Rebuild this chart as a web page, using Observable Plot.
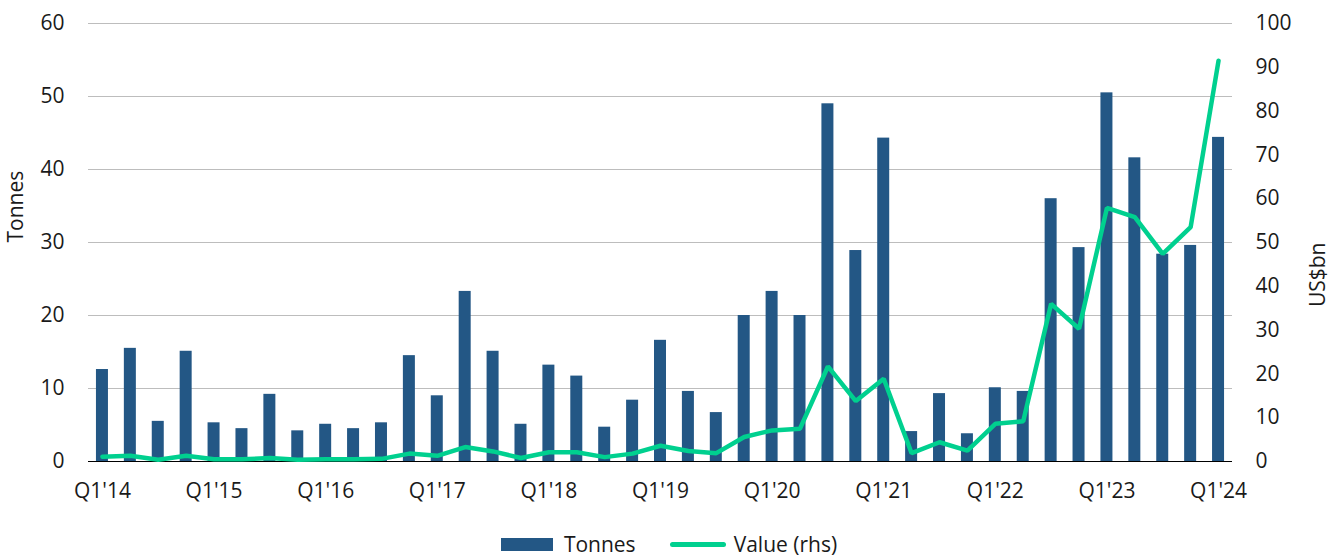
<!DOCTYPE html>
<html>
<head>
<meta charset="utf-8">
<script src="https://cdn.jsdelivr.net/npm/d3@7"></script>
<script src="https://cdn.jsdelivr.net/npm/@observablehq/plot@0.6"></script>
<style>
  html, body { margin: 0; background: #fff; font-family: "Open Sans", sans-serif; overflow: hidden; }
  #chart { position: relative; }
  #legend { position: absolute; left: 0; right: 0; top: 532px; height: 24px; display: flex; justify-content: center; align-items: center; font-size: 21px; line-height: 24px; color: #1a1a1a; }
  .sw-bar { width: 52px; height: 13px; background: #235785; margin-right: 11px; }
  .sw-line { width: 56px; height: 5px; border-radius: 3px; background: #00d08f; margin-left: 34px; margin-right: 8px; }
</style>
</head>
<body>
<div id="chart"></div>
<div id="legend"><span class="sw-bar"></span><span>Tonnes</span><span class="sw-line"></span><span>Value (rhs)</span></div>
<script>
const quarters = [
  "Q1'14","Q2'14","Q3'14","Q4'14","Q1'15","Q2'15","Q3'15","Q4'15",
  "Q1'16","Q2'16","Q3'16","Q4'16","Q1'17","Q2'17","Q3'17","Q4'17",
  "Q1'18","Q2'18","Q3'18","Q4'18","Q1'19","Q2'19","Q3'19","Q4'19",
  "Q1'20","Q2'20","Q3'20","Q4'20","Q1'21","Q2'21","Q3'21","Q4'21",
  "Q1'22","Q2'22","Q3'22","Q4'22","Q1'23","Q2'23","Q3'23","Q4'23","Q1'24"
];
const tonnes = [
  12.6,15.5,5.5,15.1,5.3,4.5,9.2,4.2,5.1,4.5,
  5.3,14.5,9.0,23.3,15.1,5.1,13.2,11.7,4.7,8.4,
  16.6,9.6,6.7,20.0,23.3,20.0,49.0,28.9,44.3,4.1,
  9.3,3.8,10.1,9.6,36.0,29.3,50.5,41.6,28.4,29.6,44.4
];
const valueUSbn = [
  1.1,1.3,0.4,1.3,0.5,0.5,0.8,0.4,0.5,0.5,
  0.6,1.8,1.3,3.3,2.3,0.8,2.1,2.1,1.0,1.8,
  3.6,2.4,1.9,5.6,7.1,7.5,21.7,13.8,18.9,1.9,
  4.4,2.5,8.6,9.2,36.0,30.3,57.9,55.8,47.4,53.5,91.5
];
const xTickLabels = ["Q1'14","Q1'15","Q1'16","Q1'17","Q1'18","Q1'19","Q1'20","Q1'21","Q1'22","Q1'23","Q1'24"];
const leftTicks = [0,10,20,30,40,50,60];
const rightTicks = [0,10,20,30,40,50,60,70,80,90,100];

const ratio = 60 / 100; // right axis max maps to left axis max
const data = quarters.map((q, i) => ({q, t: tonnes[i], v: valueUSbn[i] * ratio}));

const barColor = "#235785";
const lineColor = "#00d08f";

const chart = Plot.plot({
  width: 1338,
  height: 510,
  marginLeft: 88,
  marginRight: 106,
  marginTop: 23,
  marginBottom: 49,
  style: {fontFamily: "'Open Sans', sans-serif", fontSize: "21px", color: "#1a1a1a", background: "#fff"},
  x: {domain: quarters, type: "band", paddingInner: 0.57, paddingOuter: 0.285},
  y: {domain: [0, 60]},
  marks: [
    Plot.gridY(leftTicks, {stroke: "#bdbdbd", strokeOpacity: 1, strokeWidth: 1}),
    Plot.barY(data, {x: "q", y: "t", fill: barColor}),
    Plot.ruleY([0], {stroke: "#000", strokeWidth: 1}),
    Plot.line(data, {x: "q", y: "v", stroke: lineColor, strokeWidth: 4.5, strokeLinejoin: "miter", strokeLinecap: "round"}),
    Plot.axisX(xTickLabels, {tickSize: 0, tickPadding: 22, label: null, fontSize: 21}),
    Plot.axisY(leftTicks, {anchor: "left", tickSize: 0, tickPadding: 24, label: null, fontSize: 21}),
    Plot.axisY(rightTicks.map(d => d * ratio), {anchor: "right", tickSize: 0, tickPadding: 23, label: null, fontSize: 21, tickFormat: d => String(Math.round(d / ratio))}),
    Plot.text(["Tonnes"], {frameAnchor: "left", dx: -72, rotate: -90, fontSize: 21, fill: "#1a1a1a"}),
    Plot.text(["US$bn"], {frameAnchor: "right", dx: 86, rotate: -90, fontSize: 21, fill: "#1a1a1a"})
  ]
});
document.getElementById("chart").appendChild(chart);
</script>
</body>
</html>
